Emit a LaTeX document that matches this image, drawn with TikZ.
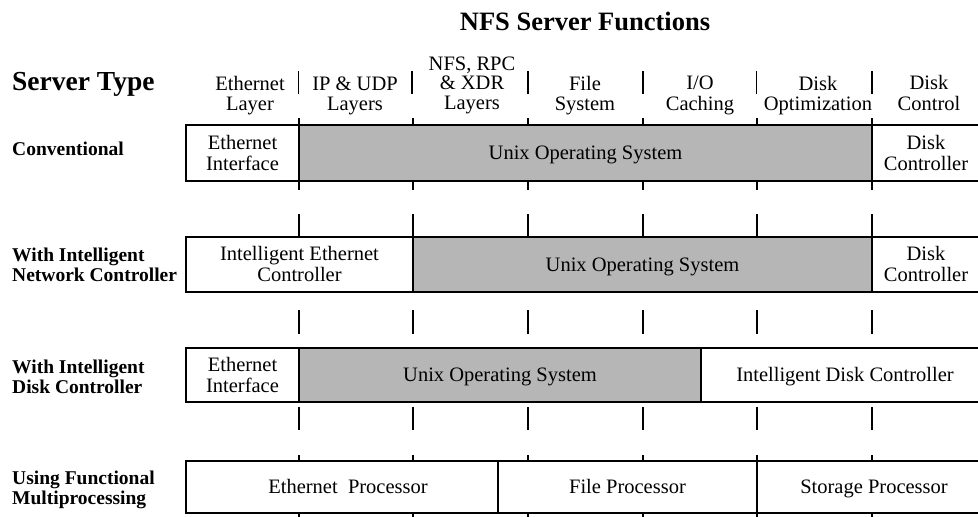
\documentclass[tikz,border=0pt]{standalone}
\usepackage{fontspec}
\setmainfont{Liberation Serif}
\definecolor{osgray}{RGB}{182,182,182}
% invisible rule that fixes line height and depth, balanced around the capitals
\newcommand{\capstrut}{\rule[-5.5pt]{0pt}{24.5pt}}
\begin{document}
\begin{tikzpicture}[x=1pt,y=-1pt,
  cell/.style={draw, line width=2.3pt, align=center, inner sep=0pt,
    font=\fontsize{20.5}{21}\selectfont,
    execute at end node=\capstrut},
  os/.style={cell, fill=osgray},
  hdr/.style={align=center, inner sep=0pt, font=\fontsize{20.5}{19.5}\selectfont,
    execute at end node=\capstrut},
  rowlabel/.style={anchor=west, align=left, inner sep=0pt,
    font=\bfseries\fontsize{19.5}{20}\selectfont,
    execute at end node=\strut},
  tickmark/.style={line width=1.2pt},
  sep/.style={line width=1.3pt}]
\useasboundingbox (0,0) rectangle (978,517);

% titles
\node[anchor=base, inner sep=0pt, font=\bfseries\fontsize{26.5}{28}\selectfont] (title) at (585,30) {NFS Server Functions};
\node[anchor=base west, inner sep=0pt, font=\bfseries\fontsize{27.5}{30}\selectfont] (stype) at (12,90) {Server Type};

% column headings
\node[hdr] (h1) at (250,93.5) {\capstrut Ethernet\\Layer};
\node[hdr] (h2) at (355,93.5) {\capstrut IP \& UDP\\Layers};
\node[hdr] (h3) at (472,83) {\capstrut NFS, RPC\\\& XDR\\Layers};
\node[hdr] (h4) at (585,93.5) {\capstrut File\\System};
\node[hdr] (h5) at (700,93.5) {\capstrut I/O\\Caching};
\node[hdr] (h6) at (818,93.5) {\capstrut Disk\\Optimization};
\node[hdr] (h7) at (929,93.5) {\capstrut Disk\\Control};
\foreach \x in {298.5,412,528,643,756.5,872}
  \draw[sep] (\x,71) -- (\x,94);

% row labels
\node[rowlabel] (r1) at (12,151) {\strut Conventional};
\node[rowlabel] (r2) at (12,267) {\strut With Intelligent\\Network Controller};
\node[rowlabel] (r3) at (12,379) {\strut With Intelligent\\Disk Controller};
\node[rowlabel] (r4) at (12,490) {\strut Using Functional\\Multiprocessing};

% column ticks between the rows
\foreach \x in {299,413,528,643,757,872}
  \foreach \a/\b in {118/125,181/190,214/237,310/334,407/430,455/461,513/518}
    \draw[tickmark] (\x,\a) -- (\x,\b);

% conventional
\node[os, minimum width=573pt, minimum height=56pt] (c2) at (585.5,153) {Unix Operating System};
\node[cell, minimum width=113pt, minimum height=56pt] (c1) at (242.5,153) {\capstrut Ethernet\\Interface};
\node[cell, minimum width=108pt, minimum height=56pt] (c3) at (926,153) {\capstrut Disk\\Controller};

% intelligent network controller
\node[os, minimum width=459pt, minimum height=55pt] (n2) at (642.5,264.5) {Unix Operating System};
\node[cell, minimum width=227pt, minimum height=55pt] (n1) at (299.5,264.5) {\capstrut Intelligent Ethernet\\Controller};
\node[cell, minimum width=108pt, minimum height=55pt] (n3) at (926,264.5) {\capstrut Disk\\Controller};

% intelligent disk controller
\node[os, minimum width=402pt, minimum height=54pt] (d2) at (500,375) {Unix Operating System};
\node[cell, minimum width=113pt, minimum height=54pt] (d1) at (242.5,375) {\capstrut Ethernet\\Interface};
\node[cell, minimum width=288pt, minimum height=54pt] (d3) at (845,375) {Intelligent Disk Controller};

% functional multiprocessing
\node[cell, minimum width=312pt, minimum height=52pt] (m1) at (342,487) {\hspace*{12pt}Ethernet\ \ Processor};
\node[cell, minimum width=259pt, minimum height=52pt] (m2) at (627.5,487) {File Processor};
\node[cell, minimum width=234pt, minimum height=52pt] (m3) at (874,487) {Storage Processor};
\end{tikzpicture}
\end{document}
